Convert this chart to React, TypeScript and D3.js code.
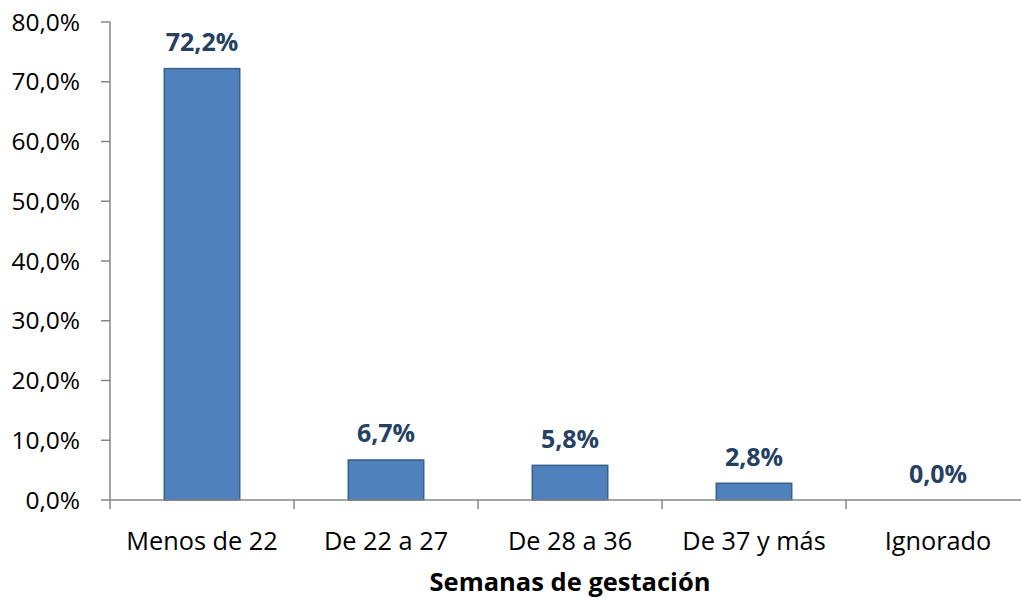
import React from "react";
import * as d3 from "d3";

const categories = ["Menos de 22", "De 22 a 27", "De 28 a 36", "De 37 y más", "Ignorado"];
const values = [72.2, 6.7, 5.8, 2.8, 0.0];
const yTicks = [0, 10, 20, 30, 40, 50, 60, 70, 80];
const axisTitle = "Semanas de gestación";

const fmt = (v: number) => v.toFixed(1).replace(".", ",") + "%";

export default function App() {
  const W = 1021, H = 599;
  const x0 = 110, x1 = 1030, yBase = 500, yTop = 22;
  const x = d3.scaleBand<string>().domain(categories).range([x0, x1]).paddingInner(0.59).paddingOuter(0.295);
  const y = d3.scaleLinear().domain([0, 80]).range([yBase, yTop]);
  const step = x.step();
  const font = "'Open Sans', 'Segoe UI', sans-serif";
  const axisColor = "#868686";
  return (
    <svg width={W} height={H} style={{ position: "absolute", left: 0, top: 0, background: "#fff" }} fontFamily={font}>
      {/* y axis */}
      <line x1={x0} x2={x0} y1={yTop} y2={yBase} stroke={axisColor} strokeWidth={1.5} />
      {yTicks.map((t) => (
        <g key={t}>
          <line x1={x0 - 9} x2={x0} y1={y(t)} y2={y(t)} stroke={axisColor} strokeWidth={1.5} />
          <text x={80} y={y(t)} dy="0.35em" textAnchor="end" fontSize={24.5} fill="#000">
            {fmt(t)}
          </text>
        </g>
      ))}
      {/* bars */}
      {categories.map((c, i) => (
        <rect
          key={c}
          x={x(c)!}
          y={y(values[i])}
          width={x.bandwidth()}
          height={yBase - y(values[i])}
          fill="#4F81BD"
          stroke="#3A5F8B"
          strokeWidth={1.5}
        />
      ))}
      {/* x axis */}
      <line x1={x0} x2={W} y1={yBase} y2={yBase} stroke={axisColor} strokeWidth={1.5} />
      {categories.map((c, i) => (
        <line key={"t" + i} x1={x0 + i * step} x2={x0 + i * step} y1={yBase} y2={yBase + 9} stroke={axisColor} strokeWidth={1.5} />
      ))}
      {categories.map((c) => (
        <text key={"l" + c} x={x(c)! + x.bandwidth() / 2} y={550} textAnchor="middle" fontSize={25.3} fill="#000">
          {c}
        </text>
      ))}
      {/* value labels */}
      {categories.map((c, i) => (
        <text
          key={"v" + c}
          x={x(c)! + x.bandwidth() / 2}
          y={y(values[i]) - 17.5}
          textAnchor="middle"
          fontSize={25}
          fontWeight="bold"
          fill="#254061"
        >
          {fmt(values[i])}
        </text>
      ))}
      <text x={570} y={591} textAnchor="middle" fontSize={25.5} fontWeight="bold" fill="#000">
        {axisTitle}
      </text>
    </svg>
  );
}
